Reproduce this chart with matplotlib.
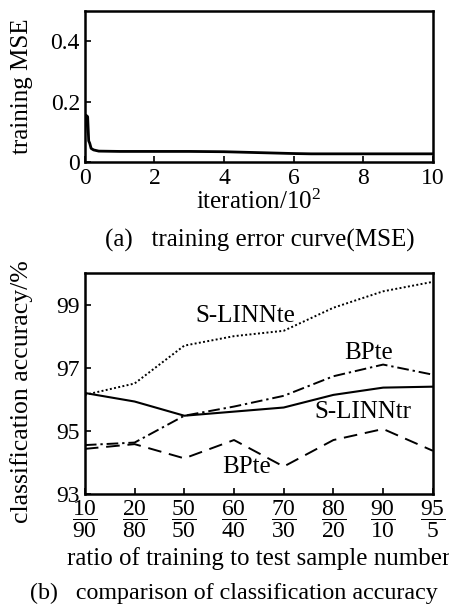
import matplotlib
matplotlib.use("Agg")
import matplotlib.pyplot as plt

plt.rcParams['font.family'] = ['Liberation Serif', 'DejaVu Serif']
plt.rcParams['mathtext.fontset'] = 'custom'
plt.rcParams['mathtext.rm'] = 'Liberation Serif'
plt.rcParams['mathtext.it'] = 'Liberation Serif'

# --- top chart data: training MSE vs iteration (x in 10^2)
iter_x = [0.0, 0.03, 0.08, 0.11, 0.14, 0.18, 0.25, 0.4, 1.0, 2.0, 3.0, 4.0, 5.0, 6.0, 6.5, 8.0, 10.0]
mse_y = [0.10, 0.155, 0.15, 0.07, 0.062, 0.045, 0.040, 0.036, 0.035, 0.035, 0.035, 0.034, 0.031, 0.028, 0.027, 0.027, 0.027]

# --- bottom chart data
ratio_num = ['10', '20', '50', '60', '70', '80', '90', '95']
ratio_den = ['90', '80', '50', '40', '30', '20', '10', '5']
slinn_te = [96.14, 96.5, 97.7, 98.0, 98.17, 98.9, 99.42, 99.72]
slinn_tr = [96.2, 95.93, 95.48, 95.61, 95.74, 96.14, 96.37, 96.4]
bp_te_dd = [94.55, 94.63, 95.48, 95.77, 96.11, 96.73, 97.1, 96.78]
bp_te_da = [94.43, 94.58, 94.13, 94.71, 93.87, 94.71, 95.06, 94.37]

fs = 18
tfs = 17
fig = plt.figure(figsize=(4.49, 6.15), dpi=100)

ax1 = fig.add_axes([0.189, 0.7366, 0.775, 0.2455])
ax1.plot(iter_x, mse_y, color='black', lw=2.0)
ax1.set_xlim(0, 10)
ax1.set_ylim(0, 0.5)
ax1.set_xticks([0, 2, 4, 6, 8, 10])
ax1.set_xticklabels(['0', '2', '4', '6', '8', '10'])
ax1.set_yticks([0, 0.2, 0.4])
ax1.set_yticklabels(['0', '0.2', '0.4'])
ax1.set_xlabel('iteration/10$^2$', fontsize=fs, labelpad=1)
ax1.set_ylabel('training MSE', fontsize=fs)
ax1.yaxis.set_label_coords(-0.15, 0.5)
ax1.tick_params(axis='x', direction='in', length=4, width=1.2, labelsize=tfs, pad=4)
ax1.tick_params(axis='y', direction='in', length=4, width=1.2, labelsize=tfs, pad=3.5)
for s in ax1.spines.values():
    s.set_linewidth(1.8)

fig.text(260 / 449, 1 - 240 / 615, '(a)   training error curve(MSE)', fontsize=fs,
         ha='center', va='center')

ax2 = fig.add_axes([0.189, 0.1967, 0.775, 0.3594])
xs = list(range(len(ratio_num)))
ax2.plot(xs, slinn_te, color='black', lw=1.4, linestyle=(0, (1, 1.2)))
ax2.plot(xs, slinn_tr, color='black', lw=1.5, linestyle='-')
ax2.plot(xs, bp_te_dd, color='black', lw=1.4, linestyle=(0, (6, 2, 1.2, 2)))
ax2.plot(xs, bp_te_da, color='black', lw=1.4, linestyle=(0, (7, 4)))
ax2.set_xlim(0, 7)
ax2.set_ylim(93, 100)
ax2.set_yticks([93, 95, 97, 99])
ax2.set_xticks(xs)
ax2.set_xticklabels([r'$\dfrac{%s}{%s}$' % (n, d) for n, d in zip(ratio_num, ratio_den)])
ax2.tick_params(axis='x', direction='in', length=4, width=1.2, labelsize=tfs, pad=3)
ax2.tick_params(axis='y', direction='in', length=4, width=1.2, labelsize=tfs, pad=3.5)
ax2.set_xlabel('ratio of training to test sample number', fontsize=fs, labelpad=5)
ax2.set_ylabel('classification accuracy/%', fontsize=18.5)
ax2.yaxis.set_label_coords(-0.15, 0.465)
for s in ax2.spines.values():
    s.set_linewidth(1.8)

ax2.text(3.22, 98.63, 'S-LINNte', fontsize=fs, ha='center', va='center')
ax2.text(5.7, 97.48, 'BPte', fontsize=fs, ha='center', va='center')
ax2.text(5.6, 95.6, 'S-LINNtr', fontsize=fs, ha='center', va='center')
ax2.text(3.26, 93.86, 'BPte', fontsize=fs, ha='center', va='center')

fig.text(30 / 449, 1 - 593 / 615, '(b)   comparison of classification accuracy', fontsize=17.3,
         ha='left', va='center')

fig.savefig('out.png', dpi=100)
